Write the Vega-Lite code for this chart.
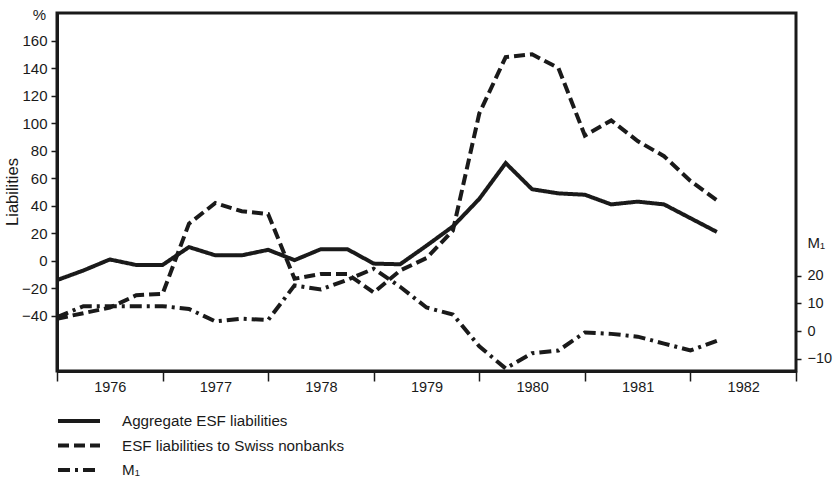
{
  "$schema": "https://vega.github.io/schema/vega-lite/v6.json",
  "width": 739,
  "height": 358,
  "autosize": "none",
  "padding": {"left": 57, "top": 13, "right": 40, "bottom": 107},
  "background": "white",
  "config": {
    "view": {"stroke": "#1a1a1a", "strokeWidth": 3},
    "font": "Liberation Sans",
    "axis": {"grid": false, "labelFont": "Liberation Sans", "titleFont": "Liberation Sans", "labelColor": "#1a1a1a", "titleColor": "#1a1a1a", "domainColor": "#1a1a1a", "tickColor": "#1a1a1a"}
  },
  "title": {"text": "Liabilities", "anchor": "middle", "orient": "left", "offset": 0, "fontSize": 16.5, "fontWeight": "normal", "font": "Liberation Sans", "color": "#1a1a1a"},
  "datasets": {
    "liab": [
      {"t": 1976.00, "series": "Aggregate ESF liabilities", "v": -14},
      {"t": 1976.25, "series": "Aggregate ESF liabilities", "v": -7},
      {"t": 1976.50, "series": "Aggregate ESF liabilities", "v": 1},
      {"t": 1976.75, "series": "Aggregate ESF liabilities", "v": -3},
      {"t": 1977.00, "series": "Aggregate ESF liabilities", "v": -3},
      {"t": 1977.25, "series": "Aggregate ESF liabilities", "v": 10},
      {"t": 1977.50, "series": "Aggregate ESF liabilities", "v": 4},
      {"t": 1977.75, "series": "Aggregate ESF liabilities", "v": 4},
      {"t": 1978.00, "series": "Aggregate ESF liabilities", "v": 8},
      {"t": 1978.25, "series": "Aggregate ESF liabilities", "v": 0.5},
      {"t": 1978.50, "series": "Aggregate ESF liabilities", "v": 8.5},
      {"t": 1978.75, "series": "Aggregate ESF liabilities", "v": 8.5},
      {"t": 1979.00, "series": "Aggregate ESF liabilities", "v": -2},
      {"t": 1979.25, "series": "Aggregate ESF liabilities", "v": -2.5},
      {"t": 1979.50, "series": "Aggregate ESF liabilities", "v": 11},
      {"t": 1979.75, "series": "Aggregate ESF liabilities", "v": 25},
      {"t": 1980.00, "series": "Aggregate ESF liabilities", "v": 45},
      {"t": 1980.25, "series": "Aggregate ESF liabilities", "v": 71},
      {"t": 1980.50, "series": "Aggregate ESF liabilities", "v": 52},
      {"t": 1980.75, "series": "Aggregate ESF liabilities", "v": 49},
      {"t": 1981.00, "series": "Aggregate ESF liabilities", "v": 48},
      {"t": 1981.25, "series": "Aggregate ESF liabilities", "v": 41},
      {"t": 1981.50, "series": "Aggregate ESF liabilities", "v": 43},
      {"t": 1981.75, "series": "Aggregate ESF liabilities", "v": 41},
      {"t": 1982.00, "series": "Aggregate ESF liabilities", "v": 31},
      {"t": 1982.25, "series": "Aggregate ESF liabilities", "v": 21},
      {"t": 1976.00, "series": "ESF liabilities to Swiss nonbanks", "v": -42},
      {"t": 1976.25, "series": "ESF liabilities to Swiss nonbanks", "v": -38},
      {"t": 1976.50, "series": "ESF liabilities to Swiss nonbanks", "v": -34},
      {"t": 1976.75, "series": "ESF liabilities to Swiss nonbanks", "v": -25},
      {"t": 1977.00, "series": "ESF liabilities to Swiss nonbanks", "v": -24},
      {"t": 1977.25, "series": "ESF liabilities to Swiss nonbanks", "v": 27},
      {"t": 1977.50, "series": "ESF liabilities to Swiss nonbanks", "v": 42},
      {"t": 1977.75, "series": "ESF liabilities to Swiss nonbanks", "v": 36},
      {"t": 1978.00, "series": "ESF liabilities to Swiss nonbanks", "v": 34},
      {"t": 1978.25, "series": "ESF liabilities to Swiss nonbanks", "v": -13},
      {"t": 1978.50, "series": "ESF liabilities to Swiss nonbanks", "v": -9.5},
      {"t": 1978.75, "series": "ESF liabilities to Swiss nonbanks", "v": -9.5},
      {"t": 1979.00, "series": "ESF liabilities to Swiss nonbanks", "v": -23},
      {"t": 1979.25, "series": "ESF liabilities to Swiss nonbanks", "v": -7},
      {"t": 1979.50, "series": "ESF liabilities to Swiss nonbanks", "v": 2},
      {"t": 1979.75, "series": "ESF liabilities to Swiss nonbanks", "v": 22},
      {"t": 1980.00, "series": "ESF liabilities to Swiss nonbanks", "v": 107},
      {"t": 1980.25, "series": "ESF liabilities to Swiss nonbanks", "v": 148},
      {"t": 1980.50, "series": "ESF liabilities to Swiss nonbanks", "v": 150},
      {"t": 1980.75, "series": "ESF liabilities to Swiss nonbanks", "v": 140},
      {"t": 1981.00, "series": "ESF liabilities to Swiss nonbanks", "v": 91},
      {"t": 1981.25, "series": "ESF liabilities to Swiss nonbanks", "v": 102},
      {"t": 1981.50, "series": "ESF liabilities to Swiss nonbanks", "v": 87},
      {"t": 1981.75, "series": "ESF liabilities to Swiss nonbanks", "v": 76},
      {"t": 1982.00, "series": "ESF liabilities to Swiss nonbanks", "v": 58},
      {"t": 1982.25, "series": "ESF liabilities to Swiss nonbanks", "v": 44}
    ],
    "m1": [
      {"t": 1976.00, "series": "M₁", "v": 5},
      {"t": 1976.25, "series": "M₁", "v": 9},
      {"t": 1976.50, "series": "M₁", "v": 9},
      {"t": 1976.75, "series": "M₁", "v": 9},
      {"t": 1977.00, "series": "M₁", "v": 9},
      {"t": 1977.25, "series": "M₁", "v": 8},
      {"t": 1977.50, "series": "M₁", "v": 3.5},
      {"t": 1977.75, "series": "M₁", "v": 4.5},
      {"t": 1978.00, "series": "M₁", "v": 4},
      {"t": 1978.25, "series": "M₁", "v": 16.5},
      {"t": 1978.50, "series": "M₁", "v": 15},
      {"t": 1978.75, "series": "M₁", "v": 18.5},
      {"t": 1979.00, "series": "M₁", "v": 22.5},
      {"t": 1979.25, "series": "M₁", "v": 16},
      {"t": 1979.50, "series": "M₁", "v": 8.5},
      {"t": 1979.75, "series": "M₁", "v": 6},
      {"t": 1980.00, "series": "M₁", "v": -5.5},
      {"t": 1980.25, "series": "M₁", "v": -13.5},
      {"t": 1980.50, "series": "M₁", "v": -8},
      {"t": 1980.75, "series": "M₁", "v": -7},
      {"t": 1981.00, "series": "M₁", "v": -0.5},
      {"t": 1981.25, "series": "M₁", "v": -1},
      {"t": 1981.50, "series": "M₁", "v": -2},
      {"t": 1981.75, "series": "M₁", "v": -4.5},
      {"t": 1982.00, "series": "M₁", "v": -7},
      {"t": 1982.25, "series": "M₁", "v": -3.5}
    ]
  },
  "layer": [
    {
      "data": {"name": "liab"},
      "mark": {"type": "line", "color": "#1a1a1a", "strokeWidth": 4, "strokeCap": "butt", "strokeJoin": "miter", "clip": true},
      "encoding": {
        "x": {"field": "t", "type": "quantitative",
          "scale": {"domain": [1976, 1983], "nice": false, "zero": false},
          "axis": {"title": null, "values": [1976, 1976.5, 1977, 1977.5, 1978, 1978.5, 1979, 1979.5, 1980, 1980.5, 1981, 1981.5, 1982, 1982.5, 1983],
            "labelExpr": "datum.value % 1 === 0.5 ? '' + floor(datum.value) : ''",
            "tickOpacity": {"condition": {"test": "datum.value % 1 === 0", "value": 1}, "value": 0},
            "tickSize": 10, "tickWidth": 1.5, "labelPadding": -1, "labelFontSize": 14.5, "labelBaseline": "top",
            "domainWidth": 3, "labelFlush": false, "labelOverlap": false}},
        "y": {"field": "v", "type": "quantitative",
          "scale": {"domain": [-80, 180], "nice": false, "zero": false},
          "axis": {"title": "%", "titleFontSize": 15, "titleFontWeight": "normal", "titleX": -18, "titleY": 1, "titleAlign": "center", "titleBaseline": "middle", "titleAngle": 0,
            "values": [-40, -20, 0, 20, 40, 60, 80, 100, 120, 140, 160],
            "tickSize": 6, "tickWidth": 1.5, "labelPadding": 4, "labelFontSize": 15, "domainWidth": 3}},
        "strokeDash": {"field": "series", "type": "nominal",
          "scale": {"domain": ["Aggregate ESF liabilities", "ESF liabilities to Swiss nonbanks", "M₁"], "range": [[1, 0], [11, 5], [12, 5, 3, 5]]},
          "legend": {"title": null, "orient": "none", "legendX": -1, "legendY": 400, "direction": "vertical",
            "symbolType": "stroke", "symbolSize": 1764, "symbolStrokeWidth": 4, "symbolStrokeColor": "#1a1a1a", "clipHeight": 16,
            "labelFontSize": 15.2, "labelFont": "Liberation Sans", "labelColor": "#1a1a1a", "labelOffset": 20, "rowPadding": 7.5, "labelLimit": 400}}
      }
    },
    {
      "data": {"name": "m1"},
      "mark": {"type": "line", "color": "#1a1a1a", "strokeWidth": 4, "strokeCap": "butt", "strokeJoin": "miter", "clip": true},
      "encoding": {
        "x": {"field": "t", "type": "quantitative"},
        "y": {"field": "v", "type": "quantitative",
          "scale": {"domain": [-14.4, 114.8], "nice": false, "zero": false},
          "axis": {"orient": "right", "title": "M₁", "titleFontSize": 15, "titleFontWeight": "normal", "titleAngle": 0, "titleX": 11, "titleY": 229, "titleAlign": "left", "titleBaseline": "middle",
            "values": [-10, 0, 10, 20], "tickSize": 5, "tickWidth": 1.5, "labelPadding": 6, "labelFontSize": 14.5, "domain": false}},
        "strokeDash": {"field": "series", "type": "nominal"}
      }
    }
  ],
  "resolve": {"scale": {"y": "independent"}, "axis": {"y": "independent"}}
}
